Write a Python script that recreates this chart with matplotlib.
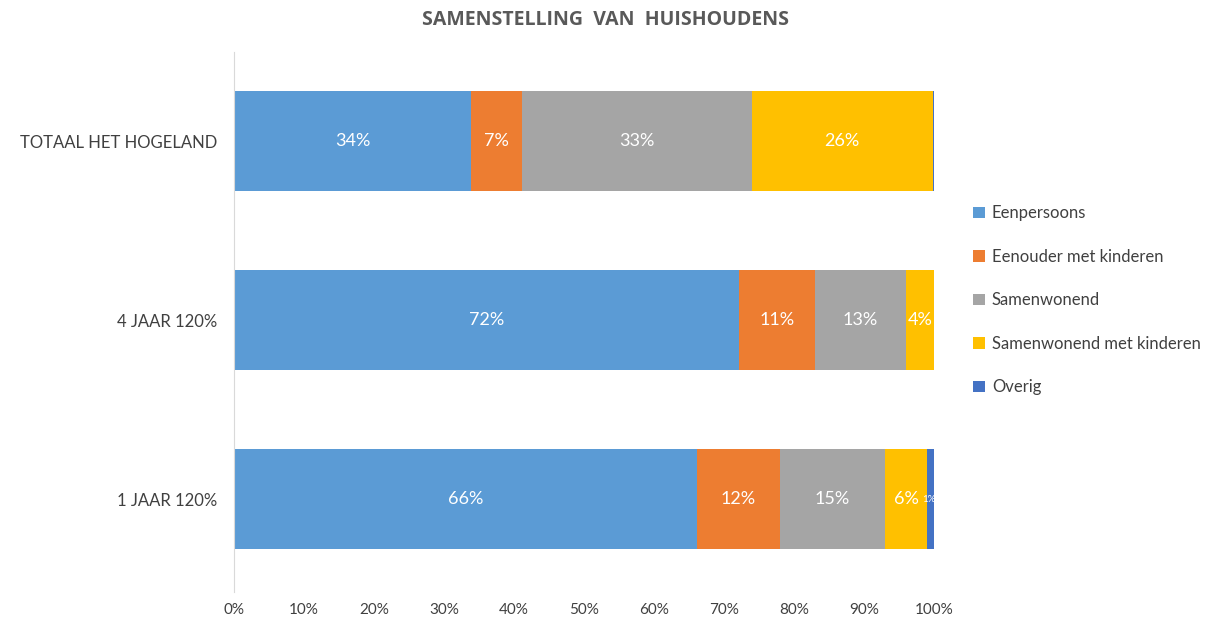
import matplotlib.pyplot as plt
import numpy as np

plt.rcParams['font.family'] = ['Lato', 'DejaVu Sans']

# categories bottom to top
groups = ['1 JAAR 120%', '4 JAAR 120%', 'TOTAAL HET HOGELAND']
series = ['Eenpersoons', 'Eenouder met kinderen', 'Samenwonend',
          'Samenwonend met kinderen', 'Overig']
eenpersoons = [66.1, 72.1, 33.9]
eenouder = [11.9, 10.9, 7.2]
samenwonend = [15.0, 13.0, 32.9]
samen_kind = [6.0, 4.0, 25.8]
overig = [1.0, 0.0, 0.2]
colors = ['#5B9BD5', '#ED7D31', '#A5A5A5', '#FFC000', '#4472C4']

values = [eenpersoons, eenouder, samenwonend, samen_kind, overig]

fig = plt.figure(figsize=(12.1, 6.21), dpi=100)
ax = fig.add_axes([0.1934, 0.0467, 0.5785, 0.8696])

y = np.arange(len(groups))
left = np.zeros(len(groups))
for name, vals, col in zip(series, values, colors):
    vals = np.array(vals)
    ax.barh(y, vals, left=left, height=0.56, color=col, label=name)
    for yi, l, v in zip(y, left, vals):
        if v >= 3:
            ax.text(l + v / 2, yi, f'{v:.0f}%', ha='center', va='center',
                    color='white', fontsize=13)
        elif v >= 0.5:
            # small label drawn across the thin segment
            ax.text(l + v / 2 - 0.3, yi, f'{v:.0f}%', ha='center', va='center',
                    color='white', fontsize=7, clip_on=False)
    left += vals

ax.set_xlim(0, 100)
ax.set_ylim(-0.52, 2.5)
ax.set_yticks(y)
ax.set_yticklabels(groups, fontsize=12, color='#404040')
ax.set_xticks(np.arange(0, 101, 10))
ax.set_xticklabels([f'{t}%' for t in range(0, 101, 10)], fontsize=11, color='#404040')
ax.tick_params(axis='y', length=0, pad=12)
ax.tick_params(axis='x', length=0, pad=8)
for s in ['top', 'right', 'bottom']:
    ax.spines[s].set_visible(False)
ax.spines['left'].set_color('#D9D9D9')

fig.text(0.5, 0.967, 'SAMENSTELLING  VAN  HUISHOUDENS', ha='center', va='center',
         fontsize=14, fontweight='bold', color='#595959', family='Open Sans')

ax.legend(loc='center left', bbox_to_anchor=(1.035, 0.54), frameon=False,
          fontsize=12, labelcolor='#404040', handlelength=0.7, handleheight=0.7,
          labelspacing=1.65, handletextpad=0.4)

fig.savefig('out.png', dpi=100)
